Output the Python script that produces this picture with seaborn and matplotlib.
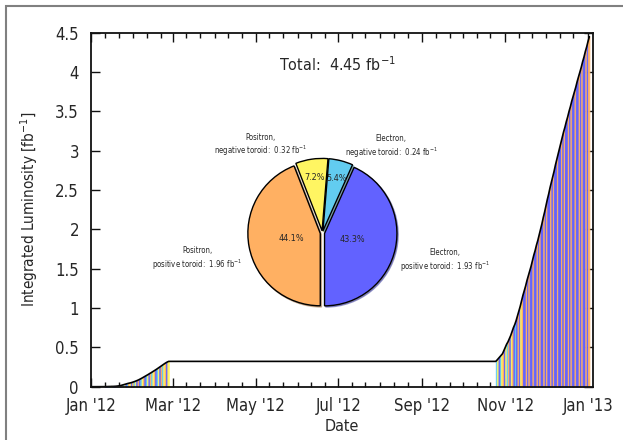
import numpy as np
import pandas as pd
import seaborn as sns
import matplotlib.pyplot as plt
import matplotlib.dates as mdates
from matplotlib.patches import Rectangle
from matplotlib.ticker import FormatStrFormatter

# days counted from 2012-01-01, integrated luminosity in fb^-1
spring_day = [10, 11, 12, 13, 14, 15, 16, 17, 18, 19,
              20, 21, 22, 23, 24, 25, 26, 27, 28, 29,
              30, 31, 32, 33, 34, 35, 36, 37, 38, 39,
              40, 41, 42, 43, 44, 45, 46, 47, 48, 49,
              50, 51, 52, 53, 54, 55, 56, 57]
spring_lumi = [0.001, 0.002, 0.002, 0.003, 0.003, 0.004, 0.004, 0.005, 0.006, 0.008,
               0.010, 0.013, 0.017, 0.022, 0.027, 0.032, 0.037, 0.042, 0.046, 0.050,
               0.055, 0.061, 0.067, 0.074, 0.081, 0.089, 0.098, 0.107, 0.117, 0.127,
               0.137, 0.147, 0.157, 0.168, 0.178, 0.189, 0.200, 0.211, 0.222, 0.234,
               0.246, 0.258, 0.270, 0.282, 0.294, 0.305, 0.315, 0.322]
# run configuration between consecutive points
# B electron/+ toroid, C electron/- toroid, Y positron/- toroid, O positron/+ toroid
spring_cfg = "BBCCYCBBOC" + "YBOCYBCOYB" + "OCYBOBCYOB" + "CYBOCYOBCY" + "BOCYOBY"

fall_day = [298, 299, 300, 301, 302, 303, 304, 305, 306, 307,
            308, 309, 310, 311, 312, 313, 314, 315, 316, 317,
            318, 319, 320, 321, 322, 323, 324, 325, 326, 327,
            328, 329, 330, 331, 332, 333, 334, 335, 336, 337,
            338, 339, 340, 341, 342, 343, 344, 345, 346, 347,
            348, 349, 350, 351, 352, 353, 354, 355, 356, 357,
            358, 359, 360, 361, 362, 363, 364, 365, 366, 367]
fall_lumi = [0.322, 0.34, 0.36, 0.38, 0.40, 0.42, 0.46, 0.50, 0.54, 0.57,
             0.61, 0.65, 0.70, 0.75, 0.79, 0.84, 0.90, 0.96, 1.02, 1.09,
             1.16, 1.22, 1.28, 1.35, 1.41, 1.47, 1.53, 1.60, 1.67, 1.73,
             1.80, 1.86, 1.93, 2.00, 2.07, 2.15, 2.22, 2.30, 2.38, 2.45,
             2.53, 2.60, 2.67, 2.74, 2.82, 2.89, 2.96, 3.03, 3.10, 3.17,
             3.24, 3.30, 3.37, 3.43, 3.50, 3.56, 3.63, 3.69, 3.75, 3.81,
             3.88, 3.94, 4.00, 4.06, 4.13, 4.19, 4.26, 4.32, 4.39, 4.45]
fall_cfg = "CYBCYOBYCO" + "BYOBCBOBYO" + "BBOBOBBOBB" + "OBOBBOBOBB" + "OBOBBOBBOB" + "OBBOBOBBOB" + "BOBOBBOBO"

cfg_colors = {'B': '#6262ff', 'C': '#62ccf0', 'Y': '#fff562', 'O': '#ffb062'}

pie_share = [43.3, 5.4, 7.2, 44.1]
pie_keys = ['B', 'C', 'Y', 'O']
pie_labels = ['Electron,\npositive toroid:  1.93 fb$^{-1}$',
              'Electron,\nnegative toroid:  0.24 fb$^{-1}$',
              'Positron,\nnegative toroid:  0.32 fb$^{-1}$',
              'Positron,\npositive toroid:  1.96 fb$^{-1}$']
total_lumi = 4.45

sns.set_style("ticks")
plt.rcParams['font.family'] = ['DejaVu Sans']
plt.rcParams['font.stretch'] = 'condensed'

start = pd.Timestamp('2012-01-01')
def to_date(days):
    return start + pd.to_timedelta(np.asarray(days, dtype=float), unit='D')

fig = plt.figure(figsize=(6.23, 4.40), dpi=100)
ax = fig.add_axes([0.1467, 0.1211, 0.805, 0.8045])

# colored stripes under the curve, one per run segment
for days, lumi, cfg in [(spring_day, spring_lumi, spring_cfg), (fall_day, fall_lumi, fall_cfg)]:
    d = to_date(days)
    for i, c in enumerate(cfg[:len(days) - 1]):
        ax.fill_between(d[i:i + 2], 0, lumi[i:i + 2], facecolor=cfg_colors[c],
                        edgecolor=cfg_colors[c], lw=0.6)

curve = pd.DataFrame({
    'date': to_date([0] + spring_day + fall_day),
    'lumi': [0.0] + spring_lumi + fall_lumi,
})
sns.lineplot(data=curve, x='date', y='lumi', color='black', lw=1.2, ax=ax)

ax.set_xlim(mdates.date2num(start), mdates.date2num(start) + 369.6)
ax.set_ylim(0, 4.5)
ax.set_yticks(np.arange(0, 4.51, 0.5))
ax.yaxis.set_major_formatter(FormatStrFormatter('%g'))
ax.xaxis.set_major_locator(mdates.MonthLocator(bymonth=[1, 3, 5, 7, 9, 11]))
ax.xaxis.set_major_formatter(mdates.DateFormatter("%b '%y"))
ax.xaxis.set_minor_locator(mdates.DayLocator(bymonthday=[1, 11, 21]))
ax.tick_params(which='both', direction='in', top=True, right=True, labelsize=12, color='#111111')
ax.tick_params(which='major', length=6.5, width=1)
ax.tick_params(which='minor', length=3.5, width=1)
ax.tick_params(axis='x', pad=7.5)
ax.tick_params(axis='y', pad=9)
for s in ax.spines.values():
    s.set_linewidth(1.3)
    s.set_color('#111111')
ax.set_xlabel('Date', fontsize=11.5, labelpad=3)
ax.set_ylabel('Integrated Luminosity [fb$^{-1}$]', fontsize=11, labelpad=11)
ax.text(0.491, 0.909, 'Total:  %.2f fb$^{-1}$' % total_lumi, transform=ax.transAxes,
        ha='center', va='center', fontsize=11.5)

# inset pie with the split by beam charge and toroid polarity
pax = fig.add_axes([0.3722, 0.2648, 0.2906, 0.4114])
wedges, texts, autotexts = pax.pie(
    pie_share, colors=[cfg_colors[k] for k in pie_keys], explode=[0.03] * 4,
    startangle=-90, autopct='%1.1f%%', pctdistance=0.6,
    shadow={'ox': 0.012, 'oy': -0.012, 'shade': 0.4},
    wedgeprops={'edgecolor': 'black', 'linewidth': 1}, textprops={'fontsize': 6.5})
pct_dist = [0.43, 0.77, 0.77, 0.43]
label_pos = [(1.69, -0.39), (0.95, 1.19), (-0.85, 1.21), (-1.73, -0.36)]
for w, t, r, lp, lab in zip(wedges, autotexts, pct_dist, label_pos, pie_labels):
    ang = np.deg2rad((w.theta1 + w.theta2) / 2)
    t.set_position((r * np.cos(ang), r * np.sin(ang)))
    pax.text(lp[0], lp[1], lab, ha='center', va='center', fontsize=5.6,
             multialignment='center', clip_on=False)

fig.add_artist(Rectangle((6 / 623, -0.05), 1.1, 1.05 - 6 / 440, transform=fig.transFigure,
                         fill=False, edgecolor='#808080', lw=1.5))

fig.savefig('out.png', dpi=100)
